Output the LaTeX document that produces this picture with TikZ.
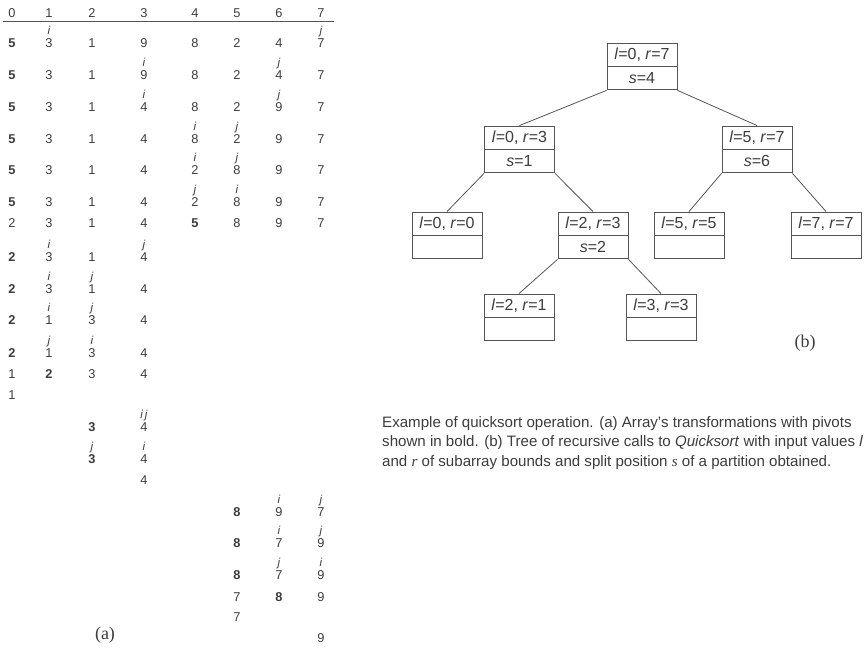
\documentclass[tikz,border=0pt]{standalone}
\usepackage{fontspec}
\setmainfont{Liberation Sans}
\newfontfamily\seriffont{Liberation Serif}
\definecolor{txt}{HTML}{3C3C3C}
\definecolor{lin}{HTML}{555555}
\begin{document}
\begin{tikzpicture}[x=1pt,y=-1pt,
  dig/.style={font=\fontsize{12.8}{15}\selectfont, text=txt, inner sep=0pt, anchor=center},
  piv/.style={dig, font=\fontsize{12.8}{15}\selectfont\bfseries},
  ptr/.style={font=\fontsize{11.5}{12}\selectfont\itshape, text=txt, inner sep=0pt, anchor=base},
  boxtop/.style={draw=lin, line width=0.9pt, minimum width=70pt, minimum height=23pt, inner sep=0pt, text=txt, font=\fontsize{16}{18}\selectfont},
  boxbot/.style={boxtop, anchor=north},
  conn/.style={draw=lin, line width=0.8pt},
  lab/.style={font=\seriffont\fontsize{18}{20}\selectfont, text=txt, inner sep=0pt},
  captxt/.style={font=\fontsize{15.1}{19.5}\selectfont, text=txt, inner sep=0pt, anchor=north west, align=left}]
\useasboundingbox (0,0) rectangle (867,648);
% column and row coordinates
\foreach \c/\xx in {0/12,1/49,2/92,3/144,4/195,5/237,6/279,7/321}
  \coordinate (col\c) at (\xx,0);
\foreach \r/\yy in {0/13,1/43.5,2/75,3/107,4/139,5/170,6/202,7/223,8/257,9/289,10/320,11/353,12/374,13/395,14/427,15/459,16/480,17/512,18/543,19/575,20/597,21/617,22/638}
  \coordinate (row\r) at (0,\yy);
% header
\foreach \c in {0,...,7}
  \node[dig] (h\c) at (col\c |- row0) {\c};
\coordinate (ruleL) at (3,21);
\coordinate (ruleR) at (334,21);
\draw[lin, line width=0.9pt] (ruleL) -- (ruleR);
% cells
\foreach \r/\c/\s/\v in {
  1/0/piv/5,1/1/dig/3,1/2/dig/1,1/3/dig/9,1/4/dig/8,1/5/dig/2,1/6/dig/4,1/7/dig/7,
  2/0/piv/5,2/1/dig/3,2/2/dig/1,2/3/dig/9,2/4/dig/8,2/5/dig/2,2/6/dig/4,2/7/dig/7,
  3/0/piv/5,3/1/dig/3,3/2/dig/1,3/3/dig/4,3/4/dig/8,3/5/dig/2,3/6/dig/9,3/7/dig/7,
  4/0/piv/5,4/1/dig/3,4/2/dig/1,4/3/dig/4,4/4/dig/8,4/5/dig/2,4/6/dig/9,4/7/dig/7,
  5/0/piv/5,5/1/dig/3,5/2/dig/1,5/3/dig/4,5/4/dig/2,5/5/dig/8,5/6/dig/9,5/7/dig/7,
  6/0/piv/5,6/1/dig/3,6/2/dig/1,6/3/dig/4,6/4/dig/2,6/5/dig/8,6/6/dig/9,6/7/dig/7,
  7/0/dig/2,7/1/dig/3,7/2/dig/1,7/3/dig/4,7/4/piv/5,7/5/dig/8,7/6/dig/9,7/7/dig/7,
  8/0/piv/2,8/1/dig/3,8/2/dig/1,8/3/dig/4,
  9/0/piv/2,9/1/dig/3,9/2/dig/1,9/3/dig/4,
  10/0/piv/2,10/1/dig/1,10/2/dig/3,10/3/dig/4,
  11/0/piv/2,11/1/dig/1,11/2/dig/3,11/3/dig/4,
  12/0/dig/1,12/1/piv/2,12/2/dig/3,12/3/dig/4,
  13/0/dig/1,
  14/2/piv/3,14/3/dig/4,
  15/2/piv/3,15/3/dig/4,
  16/3/dig/4,
  17/5/piv/8,17/6/dig/9,17/7/dig/7,
  18/5/piv/8,18/6/dig/7,18/7/dig/9,
  19/5/piv/8,19/6/dig/7,19/7/dig/9,
  20/5/dig/7,20/6/piv/8,20/7/dig/9,
  21/5/dig/7,
  22/7/dig/9}
  \node[\s] (d\r-\c) at (col\c |- row\r) {\v};
% pointers i and j
\foreach \n/\p in {1-1/i,1-7/j,2-3/i,2-6/j,3-3/i,3-6/j,4-4/i,4-5/j,5-4/i,5-5/j,6-4/j,6-5/i,
  8-1/i,8-3/j,9-1/i,9-2/j,10-1/i,10-2/j,11-1/j,11-2/i,14-3/{i\,j},15-2/j,15-3/i,
  17-6/i,17-7/j,18-6/i,18-7/j,19-6/j,19-7/i}
  \node[ptr] (p\n) at ([yshift=4pt]d\n.north) {\p};
\node[lab] (la) at (105,635) {(a)};
% tree
\newcommand\qbox[5]{%
  \node[boxtop] (#1t) at (#2,#3+11.5) {#4};
  \node[boxbot] (#1b) at (#1t.south) {#5};}
\qbox{R}{642}{43}{\textit{l}=0, \textit{r}=7}{\textit{s}=4}
\qbox{A}{519.5}{126}{\textit{l}=0, \textit{r}=3}{\textit{s}=1}
\qbox{B}{757}{126}{\textit{l}=5, \textit{r}=7}{\textit{s}=6}
\qbox{C}{447}{212}{\textit{l}=0, \textit{r}=0}{}
\qbox{D}{593}{212}{\textit{l}=2, \textit{r}=3}{\textit{s}=2}
\qbox{E}{689}{212}{\textit{l}=5, \textit{r}=5}{}
\qbox{F}{826}{212}{\textit{l}=7, \textit{r}=7}{}
\qbox{G}{519}{294}{\textit{l}=2, \textit{r}=1}{}
\qbox{H}{661}{294}{\textit{l}=3, \textit{r}=3}{}
\path[conn] (Rb.south west) -- (At.north);
\path[conn] (Rb.south east) -- (Bt.north);
\path[conn] (Ab.south west) -- (Ct.north);
\path[conn] (Ab.south east) -- (Dt.north);
\path[conn] (Bb.south west) -- (Et.north);
\path[conn] (Bb.south east) -- (Ft.north);
\path[conn] (Db.south west) -- (Gt.north);
\path[conn] (Db.south east) -- (Ht.north);
\node[lab] (lb) at (805,343) {(b)};
% caption
\node[captxt] (caption) at (382,416) {Example of quicksort operation. (a) Array's transformations with pivots\\
shown in bold. (b) Tree of recursive calls to \textit{Quicksort} with input values \textit{l}\\
and {\seriffont\itshape r} of subarray bounds and split position {\seriffont\itshape s} of a partition obtained.};
\end{tikzpicture}
\end{document}
